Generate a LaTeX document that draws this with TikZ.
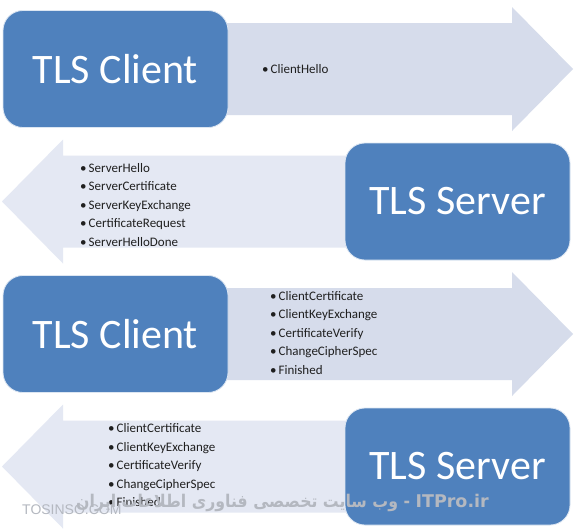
\documentclass[tikz,border=0pt]{standalone}
\usepackage{fontspec}
\setmainfont{Carlito}
\newfontfamily\wmlatin{Liberation Sans}
\newfontfamily\wmbold{DejaVu Sans Bold}
\newfontfamily\arabicfont[Script=Arabic,FakeStretch=0.9]{DejaVu Sans}
\TeXXeTstate=1
\definecolor{boxblue}{HTML}{4F81BD}
\definecolor{arrowright}{HTML}{D6DCEB}
\definecolor{arrowleft}{HTML}{E4E8F3}
\definecolor{wmgray}{HTML}{B4B8C0}
\newcommand{\hsitem}[1]{\textbullet\hspace{2pt}#1}

\begin{document}
\begin{tikzpicture}[x=1pt, y=-1pt, line join=round,
		hostbox/.style={fill=boxblue, draw=white!80!boxblue, line width=0.8pt, rounded corners=20pt,
			minimum width=225pt, minimum height=117pt, inner sep=0pt, text=white,
			font=\fontsize{42}{42}\selectfont},
		msglist/.style={anchor=west, align=left, inner sep=0pt, text=black!88,
			font=\fontsize{13}{18.5}\selectfont},
		watermark/.style={inner sep=0pt, text=wmgray}]
		
		% --- page ---
		\useasboundingbox (0,0) rectangle (580,531);
		\fill[white] (0,0) rectangle (580,531);
		
		% --- Row 1: client -> server, ClientHello ---
		\begin{scope}[shift={(0,69)}]
			\fill[arrowright] (200,-46) -- (512,-46) -- (512,-62) -- (573,0)
			-- (512,62) -- (512,46) -- (200,46) -- cycle;
			\node[hostbox] (client1) at (115.5,0) {TLS Client};
			\node[msglist] (hello) at (262,0) {\hsitem{ClientHello}};
		\end{scope}
		
		% --- Row 2: server -> client ---
		\begin{scope}[shift={(0,201.5)}]
			\fill[arrowleft] (375,-46) -- (63,-46) -- (63,-62) -- (2,0)
			-- (63,62) -- (63,46) -- (375,46) -- cycle;
			\node[hostbox] (server1) at (457.5,0) {TLS Server};
			\node[msglist] (srvmsgs) at (80,3.5) {\hsitem{ServerHello}\\
				\hsitem{ServerCertificate}\\
				\hsitem{ServerKeyExchange}\\
				\hsitem{CertificateRequest}\\
				\hsitem{ServerHelloDone}};
		\end{scope}
		
		% --- Row 3: client -> server ---
		\begin{scope}[shift={(0,334)}]
			\fill[arrowright] (200,-46) -- (512,-46) -- (512,-62) -- (573,0)
			-- (512,62) -- (512,46) -- (200,46) -- cycle;
			\node[hostbox] (client2) at (115.5,0) {TLS Client};
			\node[msglist] (climsgs) at (270,-1) {\hsitem{ClientCertificate}\\
				\hsitem{ClientKeyExchange}\\
				\hsitem{CertificateVerify}\\
				\hsitem{ChangeCipherSpec}\\
				\hsitem{Finished}};
		\end{scope}
		
		% --- Row 4: server -> client ---
		\begin{scope}[shift={(0,466.5)}]
			\fill[arrowleft] (375,-46) -- (63,-46) -- (63,-62) -- (2,0)
			-- (63,62) -- (63,46) -- (375,46) -- cycle;
			\node[hostbox] (server2) at (457.5,0) {TLS Server};
			\node[msglist] (echomsgs) at (108,-1) {\hsitem{ClientCertificate}\\
				\hsitem{ClientKeyExchange}\\
				\hsitem{CertificateVerify}\\
				\hsitem{ChangeCipherSpec}\\
				\hsitem{Finished}};
		\end{scope}
		
		% --- watermark on top ---
		\node[watermark, anchor=west, font=\wmlatin\fontsize{14}{14}\selectfont]
		(tosinso) at (22,510) {TOSINSO.COM};
		\node[watermark, anchor=east, font=\arabicfont\bfseries\fontsize{17.5}{17.5}\selectfont]
		(itpro) at (489,503)
		{\beginR\beginL{\wmbold ITPro.ir}\endL{} - وب سایت تخصصی فناوری اطلاعات ایران\endR};
		
	\end{tikzpicture}
\end{document}
